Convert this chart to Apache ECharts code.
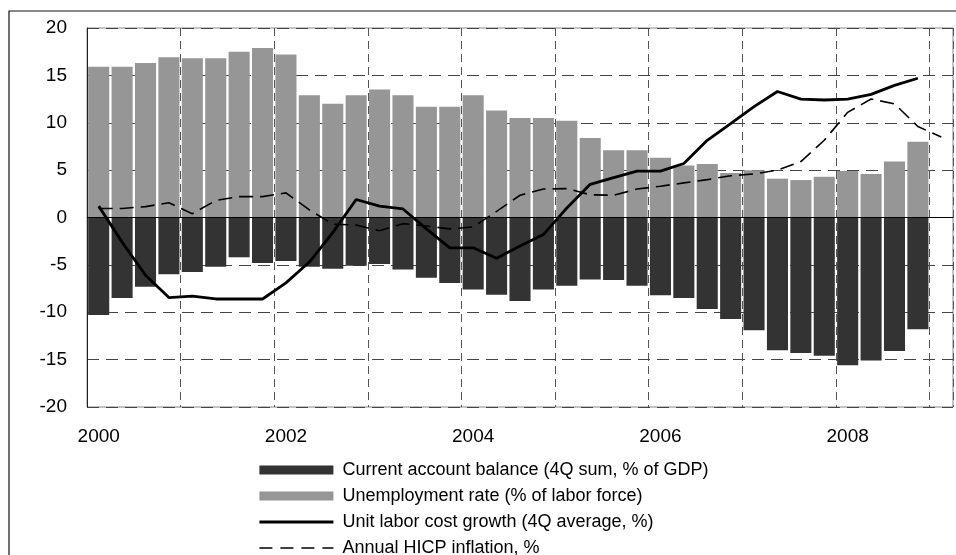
<!DOCTYPE html>
<html>
<head>
<meta charset="utf-8">
<script src="https://cdn.jsdelivr.net/npm/echarts@6/dist/echarts.min.js"></script>
<style>
html,body{margin:0;padding:0;background:#fff;}
#chart{width:956px;height:555px;}
</style>
</head>
<body>
<div id="chart"></div>
<script>
const categories = [
  '2000Q1','2000Q2','2000Q3','2000Q4','2001Q1','2001Q2','2001Q3','2001Q4',
  '2002Q1','2002Q2','2002Q3','2002Q4','2003Q1','2003Q2','2003Q3','2003Q4',
  '2004Q1','2004Q2','2004Q3','2004Q4','2005Q1','2005Q2','2005Q3','2005Q4',
  '2006Q1','2006Q2','2006Q3','2006Q4','2007Q1','2007Q2','2007Q3','2007Q4',
  '2008Q1','2008Q2','2008Q3','2008Q4','2009Q1'
];
const yearTicks = ['2000','2002','2004','2006','2008'];

const currentAccount = [-10.3, -8.5, -7.3, -6.0, -5.75, -5.2, -4.2, -4.8, -4.6, -5.2, -5.4, -5.1, -4.9, -5.5, -6.35, -6.9, -7.6, -8.15, -8.8, -7.6, -7.2, -6.55, -6.6, -7.2, -8.2, -8.5, -9.65, -10.7, -11.9, -14.0, -14.3, -14.6, -15.6, -15.1, -14.1, -11.8];
const unemployment = [15.9, 15.9, 16.3, 16.9, 16.8, 16.8, 17.5, 17.9, 17.2, 12.9, 12.0, 12.9, 13.5, 12.9, 11.7, 11.7, 12.9, 11.3, 10.5, 10.5, 10.2, 8.4, 7.1, 7.1, 6.3, 5.5, 5.65, 4.7, 5.0, 4.1, 3.95, 4.3, 4.9, 4.6, 5.9, 8.0];
const unitLaborCost = [1.2, -2.6, -6.1, -8.45, -8.3, -8.6, -8.6, -8.6, -6.9, -4.7, -1.6, 1.9, 1.2, 0.9, -1.2, -3.2, -3.2, -4.3, -3.0, -1.8, 1.0, 3.5, 4.2, 4.9, 4.9, 5.7, 8.15, 9.9, 11.7, 13.3, 12.5, 12.4, 12.5, 13.0, 13.95, 14.7];
const hicpInflation = [0.95, 0.95, 1.15, 1.55, 0.4, 1.8, 2.2, 2.2, 2.6, 0.8, -0.7, -0.8, -1.4, -0.65, -0.9, -1.2, -1.0, 0.65, 2.35, 3.0, 3.05, 2.4, 2.35, 3.0, 3.3, 3.65, 4.0, 4.4, 4.6, 5.0, 5.9, 8.15, 11.1, 12.5, 12.0, 9.6, 8.5];

const seriesNames = [
  'Current account balance (4Q sum, % of GDP)',
  'Unemployment rate (% of labor force)',
  'Unit labor cost growth (4Q average, %)',
  'Annual HICP inflation, %'
];

const FONT = 'Liberation Sans, Arial, sans-serif';
const chart = echarts.init(document.getElementById('chart'), null, {renderer: 'canvas'});
chart.setOption({
  animation: false,
  backgroundColor: '#fff',
  textStyle: {fontFamily: FONT},
  graphic: [{
    type: 'rect',
    left: 6.5, top: 8.5,
    shape: {x: 0, y: 0, width: 980, height: 580},
    style: {fill: 'none', stroke: '#111', lineWidth: 1.2},
    silent: true, z: 0
  }],
  grid: {
    left: 87, right: 3, top: 28, bottom: 148,
    show: true, borderColor: '#888', borderWidth: 1, backgroundColor: 'transparent'
  },
  legend: {
    orient: 'vertical',
    left: 258, top: 461,
    height: 200,
    padding: 0,
    itemWidth: 74, itemHeight: 9, itemGap: 8,
    textStyle: {fontFamily: FONT, fontSize: 18, color: '#000', lineHeight: 18, padding: [0, 0, 0, 4]},
    data: [
      {name: seriesNames[0], icon: 'rect'},
      {name: seriesNames[1], icon: 'rect'},
      {name: seriesNames[2], itemStyle: {opacity: 0}, lineStyle: {width: 2.8, color: '#000'}},
      {name: seriesNames[3], itemStyle: {opacity: 0}, lineStyle: {width: 1.6, color: '#000', type: [13, 8]}}
    ],
    selectedMode: false
  },
  xAxis: {
    type: 'category',
    data: categories,
    boundaryGap: true,
    axisLine: {show: false},
    axisTick: {show: false},
    axisLabel: {
      interval: 7, margin: 20,
      fontFamily: FONT, fontSize: 19, color: '#000',
      formatter: v => (yearTicks.includes(v.slice(0,4)) && v.endsWith('Q1')) ? v.slice(0,4) : ''
    },
    splitLine: {show: true, interval: 3, lineStyle: {color: '#555', type: [8, 5], width: 1}}
  },
  yAxis: {
    type: 'value',
    min: -20, max: 20, interval: 5,
    axisLine: {show: true, lineStyle: {color: '#222', width: 1}},
    axisTick: {show: false},
    axisLabel: {margin: 20, fontFamily: FONT, fontSize: 19, color: '#000'},
    splitLine: {show: true, lineStyle: {color: '#444', type: [12, 7], width: 1}}
  },
  series: [
    {
      name: seriesNames[0], type: 'bar', data: currentAccount,
      barCategoryGap: '10%', barGap: '-100%',
      itemStyle: {color: '#333333'}
    },
    {
      name: seriesNames[1], type: 'bar', data: unemployment,
      barCategoryGap: '10%', barGap: '-100%',
      itemStyle: {color: '#969696'},
      markLine: {
        silent: true, symbol: ['none', 'none'],
        label: {show: false},
        lineStyle: {color: '#000', type: 'solid', width: 1},
        data: [{yAxis: 0}]
      }
    },
    {
      name: seriesNames[2], type: 'line', data: unitLaborCost,
      symbol: 'none', z: 5,
      lineStyle: {color: '#000', width: 2.8, type: 'solid'},
      itemStyle: {color: '#000'}
    },
    {
      name: seriesNames[3], type: 'line', data: hicpInflation,
      symbol: 'none', z: 4,
      lineStyle: {color: '#000', width: 1.6, type: [14, 7]},
      itemStyle: {color: '#000'}
    }
  ]
});
</script>
</body>
</html>
